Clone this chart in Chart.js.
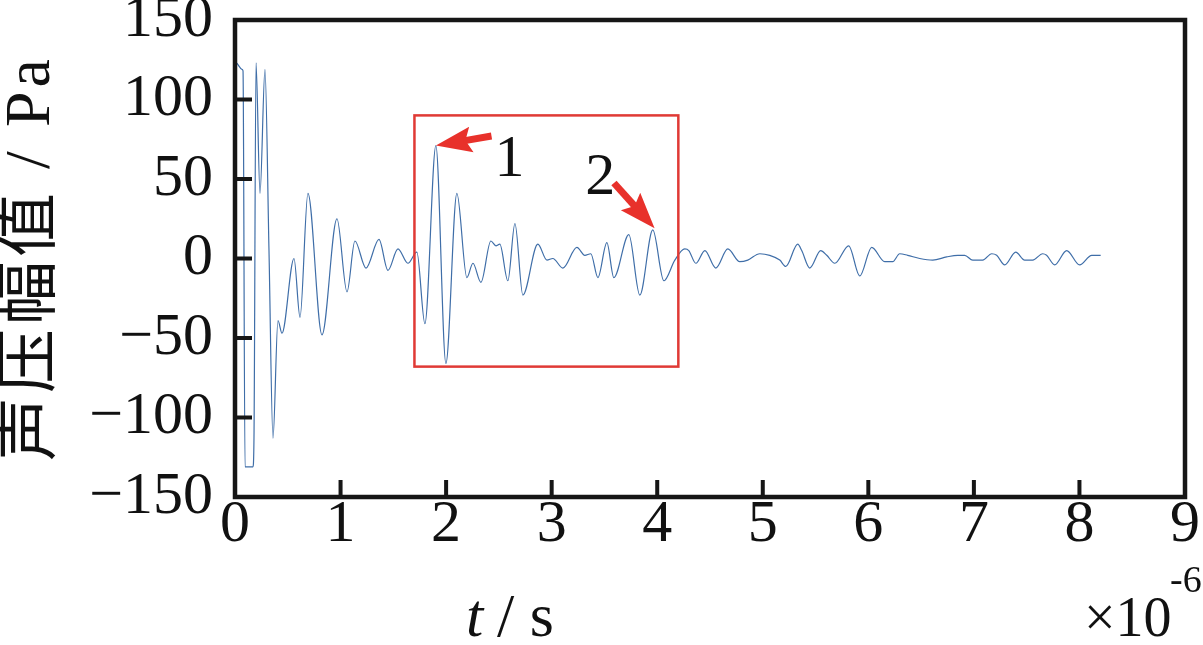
<!DOCTYPE html>
<html>
<head>
<meta charset="utf-8">
<script src="https://cdn.jsdelivr.net/npm/chart.js@4/dist/chart.umd.min.js"></script>
<style>
    html, body { margin: 0; padding: 0; background: #fff; }
    #wrap { width: 1203px; height: 645px; }
</style>
</head>
<body>
<div id="wrap"><canvas id="waveChart" width="1203" height="645"></canvas></div>
<script>
// time in units of 1e-6 s
const timeUs = [
    0.000, 0.009, 0.066, 0.076, 0.095, 0.170, 0.180, 0.199, 0.237, 0.284,
    0.322, 0.360, 0.407, 0.445, 0.559, 0.616, 0.691, 0.824, 0.966, 1.061,
    1.136, 1.241, 1.364, 1.449, 1.544, 1.638, 1.723, 1.799, 1.903, 1.998,
    2.102, 2.197, 2.254, 2.330, 2.424, 2.472, 2.509, 2.585, 2.652, 2.727,
    2.869, 2.955, 3.011, 3.106, 3.239, 3.314, 3.371, 3.438, 3.523, 3.589,
    3.731, 3.835, 3.958, 4.063, 4.167, 4.261, 4.299, 4.366, 4.451, 4.555,
    4.669, 4.782, 4.858, 4.972, 5.066, 5.161, 5.218, 5.331, 5.369, 5.445,
    5.549, 5.606, 5.682, 5.814, 5.919, 6.032, 6.155, 6.231, 6.297, 6.373,
    6.487, 6.610, 6.742, 6.847, 6.913, 6.989, 7.083, 7.169, 7.216, 7.292,
    7.396, 7.481, 7.557, 7.652, 7.689, 7.765, 7.879, 8.002, 8.116, 8.201
];

// sound pressure amplitude, Pa
const pressurePa = [
    0, 123, 119, 118, -131, -131, -112, 123, 41, 119,
    5, -113, -39, -47, 0, -37, 41, -48, 25, -21,
    11, -6, 12, -7.5, 6, -3, 4, -41, 71, -66,
    41, -12, -3, -15, 11, 8, 9, -14, 22, -23,
    9, -1, 0, -6, 7, 2, 3, -12, 10, -12,
    15, -23, 18, -14, -1, 6, 5, -3, 5, -6,
    6, -2, -1, 3, 2, -1, -5, 9, 5, -6,
    5, 2, -3, 8, -11, 7, -2, -2, 3, 2,
    0, -1, 1, 2, 2, -1, -1, 3, 2, -4,
    4, -1, -1, 3, 2, -4, 5, -4, 2, 2
];

const xTicks = [0, 1, 2, 3, 4, 5, 6, 7, 8, 9];
const yTicks = [-150, -100, -50, 0, 50, 100, 150];

// red box around the second wave packet (data units)
const boxT = [1.7, 4.2];
const boxP = [90, -68];

// arrows: [tailT, tailP, tipT, tipP], labels: [t, p, text]
const arrows = [
    [2.43, 77, 1.903, 71],
    [3.59, 47.5, 3.975, 19]
];
const arrowLabels = [
    [2.60, 62, "1"],
    [3.46, 50.5, "2"]
];

const serif = '"Liberation Serif", "Times New Roman", serif';

const points = timeUs.map((t, i) => ({ x: t, y: pressurePa[i] }));

function drawArrow(ctx, x0, y0, x1, y1) {
    const ang = Math.atan2(y1 - y0, x1 - x0);
    const len = Math.hypot(x1 - x0, y1 - y0);
    const headLen = Math.min(36, len * 0.75);
    const headW = 13;
    ctx.save();
    ctx.translate(x1, y1);
    ctx.rotate(ang);
    ctx.fillStyle = "#e8312b";
    ctx.beginPath();
    ctx.moveTo(0, 0);
    ctx.lineTo(-headLen, -headW);
    ctx.lineTo(-headLen + 6, 0);
    ctx.lineTo(-headLen, headW);
    ctx.closePath();
    ctx.fill();
    ctx.fillRect(-len, -3.5, len - headLen + 8, 7);
    ctx.restore();
}

function noPad(s) {
    s.paddingTop = 0;
    s.paddingBottom = 0;
    s.paddingLeft = 0;
    s.paddingRight = 0;
}

const framePlugin = {
    id: "frame",
    afterDatasetsDraw(chart) {
        const { ctx, chartArea: a, scales } = chart;
        const xs = scales.x, ys = scales.y;
        ctx.save();

        // red box
        ctx.strokeStyle = "#e03a35";
        ctx.lineWidth = 2.5;
        const bx0 = xs.getPixelForValue(boxT[0]), bx1 = xs.getPixelForValue(boxT[1]);
        const by0 = ys.getPixelForValue(boxP[0]), by1 = ys.getPixelForValue(boxP[1]);
        ctx.strokeRect(bx0, by0, bx1 - bx0, by1 - by0);

        arrows.forEach(a2 => {
            drawArrow(ctx,
                xs.getPixelForValue(a2[0]), ys.getPixelForValue(a2[1]),
                xs.getPixelForValue(a2[2]), ys.getPixelForValue(a2[3]));
        });

        ctx.fillStyle = "#111";
        ctx.font = "60px " + serif;
        ctx.textAlign = "center";
        ctx.textBaseline = "middle";
        arrowLabels.forEach(l => {
            ctx.fillText(l[2], xs.getPixelForValue(l[0]), ys.getPixelForValue(l[1]));
        });

        // frame
        ctx.strokeStyle = "#161616";
        ctx.lineWidth = 4.5;
        ctx.strokeRect(a.left, a.top, a.right - a.left, a.bottom - a.top);

        // inward ticks
        ctx.lineWidth = 4;
        ctx.beginPath();
        yTicks.forEach(v => {
            const y = ys.getPixelForValue(v);
            ctx.moveTo(a.left, y);
            ctx.lineTo(a.left + 17, y);
        });
        xTicks.forEach(v => {
            const x = xs.getPixelForValue(v);
            ctx.moveTo(x, a.bottom);
            ctx.lineTo(x, a.bottom - 17);
        });
        ctx.stroke();

        // axis titles
        ctx.fillStyle = "#111";
        ctx.textBaseline = "alphabetic";
        ctx.textAlign = "left";
        ctx.font = "italic 62px " + serif;
        const tx = 466, ty = 636;
        ctx.fillText("t", tx, ty);
        ctx.font = "62px " + serif;
        ctx.fillText("/ s", tx + 31, ty);

        ctx.font = "56px " + serif;
        ctx.fillText("\u00d710", 1084, 636);
        ctx.font = "38px " + serif;
        ctx.fillText("-6", 1170, 592);

        ctx.translate(32, 258);
        ctx.rotate(-Math.PI / 2);
        ctx.textAlign = "center";
        ctx.textBaseline = "middle";
        ctx.letterSpacing = "4px";
        ctx.font = '64px "Liberation Serif", "Noto Sans CJK SC", serif';
        ctx.fillText("声压幅值 / Pa", 0, 0);
        ctx.restore();
    }
};

new Chart(document.getElementById("waveChart"), {
    type: "line",
    data: {
        datasets: [{
            data: points,
            borderColor: "#3f6ea8",
            borderWidth: 1.2,
            pointRadius: 0,
            cubicInterpolationMode: "monotone",
            fill: false
        }]
    },
    options: {
        responsive: false,
        animation: false,
        events: [],
        layout: { padding: { left: 0, right: 18, top: 20, bottom: 0 } },
        plugins: {
            legend: { display: false },
            tooltip: { enabled: false }
        },
        scales: {
            x: {
                type: "linear",
                min: 0,
                max: 9,
                afterFit: s => { s.height = 148; noPad(s); },
                afterBuildTicks: s => { s.ticks = xTicks.map(v => ({ value: v })); },
                grid: { display: false, drawTicks: false },
                border: { display: false },
                ticks: {
                    autoSkip: false,
                    padding: -8,
                    color: "#111",
                    font: { family: serif, size: 60 },
                    maxRotation: 0
                }
            },
            y: {
                min: -150,
                max: 150,
                afterFit: s => { s.width = 235; noPad(s); },
                afterBuildTicks: s => { s.ticks = yTicks.map(v => ({ value: v })); },
                grid: { display: false, drawTicks: false },
                border: { display: false },
                ticks: {
                    autoSkip: false,
                    padding: 22,
                    color: "#111",
                    font: { family: serif, size: 60 },
                    callback: v => String(v).replace("-", "\u2212")
                }
            }
        }
    },
    plugins: [framePlugin]
});
</script>
</body>
</html>
